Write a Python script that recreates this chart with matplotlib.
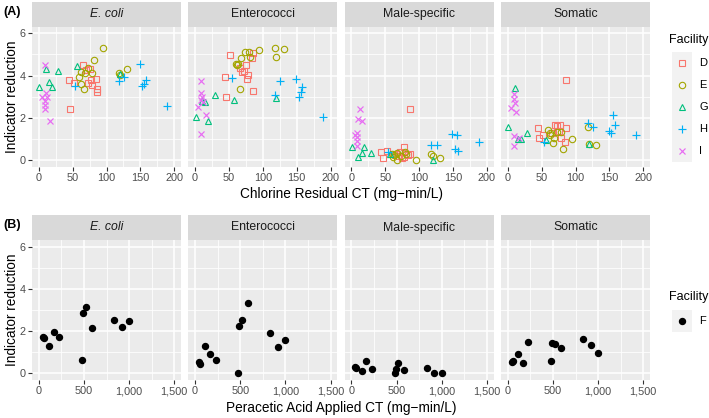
import matplotlib
matplotlib.use("Agg")
import matplotlib.pyplot as plt
from matplotlib.ticker import FuncFormatter

plt.rcParams['font.family'] = ['Liberation Sans', 'DejaVu Sans']

W, H = 709, 418

organisms = ["E. coli", "Enterococci", "Male-specific", "Somatic"]
facilities = ["D", "E", "G", "H", "I"]
fac_colors = ["#F8766D", "#A3A500", "#00BF7D", "#00B0F6", "#E76BF3"]
fac_markers = ["s", "o", "^", "+", "x"]
fac_sizes = [4.2, 4.6, 4.8, 6.0, 4.6]

# (A) chlorine residual CT per facility, and log reduction per organism
D_ct = [44, 46, 52, 66, 70, 72, 75, 77, 78, 84, 86, 86]
D_ecoli = [3.79, 2.40, 3.66, 4.49, 4.26, 3.66, 4.31, 3.79, 3.55, 3.82, 3.35, 3.24]
D_entero = [3.95, 2.99, 4.98, 4.37, 4.16, 4.23, 4.50, 3.82, 4.05, 4.82, 3.29, 5.05]
D_male = [0.40, 0.08, 0.44, 0.30, 0.20, 0.40, 0.10, 0.63, 0.16, 0.24, 2.40, 0.30]
D_somatic = [1.50, 1.06, 1.18, 1.30, 1.66, 1.60, 1.40, 1.66, 1.03, 0.87, 3.79, 1.50]

E_ct = [60, 62, 63, 67, 68, 73, 79, 81, 95, 118, 120, 131]
E_ecoli = [3.94, 3.60, 4.16, 3.38, 4.13, 4.37, 4.13, 4.76, 5.30, 4.13, 4.05, 4.32]
E_entero = [4.54, 4.50, 4.55, 3.35, 4.82, 5.13, 5.13, 4.87, 5.21, 5.29, 4.87, 5.25]
E_male = [0.30, 0.13, 0.25, 0.03, 0.35, 0.20, 0.40, 0.30, 0.03, 0.28, 0.20, 0.10]
E_somatic = [1.45, 1.18, 1.29, 0.79, 1.05, 1.34, 1.34, 0.51, 0.98, 1.58, 0.76, 0.71]

G_ct = [1, 10, 15, 19, 29, 57, 120]
G_ecoli = [3.45, 4.30, 3.70, 3.45, 4.20, 4.45, 4.10]
G_entero = [2.05, 2.81, 2.75, 1.86, 3.08, 2.84, 2.95]
G_male = [0.63, 0.13, 0.35, 0.63, 0.35, 0.30, 0.03]
G_somatic = [1.58, 3.40, 0.98, 1.00, 1.29, 0.95, 0.76]

H_ct = [54, 118, 126, 149, 153, 156, 158, 189]
H_ecoli = [3.49, 3.76, 3.94, 4.56, 3.49, 3.60, 3.81, 2.54]
H_entero = [3.87, 3.08, 3.76, 3.84, 3.00, 3.24, 3.45, 2.02]
H_male = [0.40, 0.71, 0.71, 1.26, 0.55, 1.20, 0.44, 0.84]
H_somatic = [0.87, 1.78, 1.58, 1.39, 1.29, 2.13, 1.66, 1.18]

I_ct = [5, 9, 9, 9, 9, 10, 12, 16]
I_ecoli = [3.00, 4.50, 2.80, 2.60, 2.40, 3.20, 3.00, 1.85]
I_entero = [2.53, 3.76, 3.16, 2.84, 1.23, 3.00, 2.75, 2.13]
I_male = [1.20, 1.29, 1.10, 0.66, 0.90, 1.94, 2.42, 1.86]
I_somatic = [2.45, 3.11, 2.87, 1.14, 0.66, 2.70, 2.29, 1.07]

# (B) peracetic acid applied CT, facility F
F_ct = [45, 55, 115, 165, 228, 478, 490, 520, 587, 835, 918, 1000]
F_ecoli = [1.74, 1.65, 1.30, 1.97, 1.71, 0.63, 2.84, 3.13, 2.16, 2.53, 2.21, 2.50]
F_entero = [0.55, 0.45, 1.31, 0.91, 0.63, 0.00, 2.24, 2.53, 3.32, 1.90, 1.23, 1.58]
F_male = [0.30, 0.25, 0.11, 0.58, 0.22, 0.00, 0.20, 0.50, 0.16, 0.24, 0.00, 0.00]
F_somatic = [0.55, 0.60, 0.91, 0.47, 1.47, 0.60, 1.45, 1.39, 1.22, 1.61, 1.34, 0.98]

chlorine = {
    "D": (D_ct, [D_ecoli, D_entero, D_male, D_somatic]),
    "E": (E_ct, [E_ecoli, E_entero, E_male, E_somatic]),
    "G": (G_ct, [G_ecoli, G_entero, G_male, G_somatic]),
    "H": (H_ct, [H_ecoli, H_entero, H_male, H_somatic]),
    "I": (I_ct, [I_ecoli, I_entero, I_male, I_somatic]),
}
paa = [F_ecoli, F_entero, F_male, F_somatic]

PANEL_BG = "#EBEBEB"
STRIP_BG = "#D9D9D9"
TICK_COL = "#4D4D4D"


def rect(left, top, w, h):
    return [left / W, 1 - (top + h) / H, w / W, h / H]


def style_axes(ax, xmaj, xmin, xlim, show_y, fmt=None):
    ax.set_facecolor(PANEL_BG)
    for s in ax.spines.values():
        s.set_visible(False)
    ax.set_xlim(xlim)
    ax.set_ylim(-0.3, 6.3)
    ax.set_xticks(xmaj)
    ax.set_xticks(xmin, minor=True)
    ax.set_yticks([0, 2, 4, 6])
    ax.set_yticks([1, 3, 5], minor=True)
    ax.grid(which="major", color="white", lw=1.1)
    ax.grid(which="minor", color="white", lw=0.55)
    ax.set_axisbelow(True)
    ax.tick_params(which="major", length=2.75, width=0.8, color="#333333",
                   labelsize=7.8, labelcolor=TICK_COL, pad=2)
    ax.tick_params(which="minor", length=0)
    if fmt is not None:
        ax.xaxis.set_major_formatter(fmt)
    if not show_y:
        ax.tick_params(axis="y", which="both", left=False, labelleft=False)


def strip(left, top, w, h, text):
    sax = fig.add_axes(rect(left, top, w, h))
    sax.set_facecolor(STRIP_BG)
    for s in sax.spines.values():
        s.set_visible(False)
    sax.set_xticks([])
    sax.set_yticks([])
    style = "italic" if text == "E. coli" else "normal"
    sax.text(0.5, 0.5, text, ha="center", va="center", fontsize=8.8,
             color="#1A1A1A", style=style, transform=sax.transAxes)


def draw_mark(ax, xs, ys, mk, col, ms):
    if mk in ("+", "x"):
        ax.plot(xs, ys, ls="none", marker=mk, ms=ms, mew=0.85, color=col)
    else:
        ax.plot(xs, ys, ls="none", marker=mk, ms=ms, mew=0.8,
                mfc="none", mec=col)


def legend_key(top):
    lax = fig.add_axes(rect(671.7, top, 20, 22))
    lax.set_facecolor("#F2F2F2")
    for s in lax.spines.values():
        s.set_visible(False)
    lax.set_xticks([])
    lax.set_yticks([])
    lax.set_xlim(0, 1)
    lax.set_ylim(0, 1)
    return lax


fig = plt.figure(figsize=(W / 100, H / 100), dpi=100)

lefts = [32, 188.3, 344.6, 501]
pw = 149

# panel A
for k, org in enumerate(organisms):
    strip(lefts[k], 2, pw, 24.5, org)
    ax = fig.add_axes(rect(lefts[k], 27, pw, 139.5))
    style_axes(ax, [0, 50, 100, 150, 200], [25, 75, 125, 175], (-10, 210), k == 0)
    for fac, col, mk, ms in zip(facilities, fac_colors, fac_markers, fac_sizes):
        xs, ys = chlorine[fac]
        draw_mark(ax, xs, ys[k], mk, col, ms)

# panel B
comma = FuncFormatter(lambda v, p: f"{int(v):,}")
for k, org in enumerate(organisms):
    strip(lefts[k], 215, pw, 25, org)
    ax = fig.add_axes(rect(lefts[k], 240.4, pw, 139.2))
    style_axes(ax, [0, 500, 1000, 1500], [250, 750, 1250], (-75, 1575), k == 0, comma)
    ax.plot(F_ct, paa[k], ls="none", marker="o", ms=4.3, color="black")

# titles and labels
fig.text(3 / W, 1 - 12 / H, "(A)", fontsize=9, fontweight="bold", va="center")
fig.text(3 / W, 1 - 225 / H, "(B)", fontsize=9, fontweight="bold", va="center")
fig.text(12 / W, 1 - 97 / H, "Indicator reduction", rotation=90, fontsize=9.8,
         ha="center", va="center")
fig.text(12 / W, 1 - 310 / H, "Indicator reduction", rotation=90, fontsize=9.8,
         ha="center", va="center")
fig.text(341 / W, 1 - 194 / H, "Chlorine Residual CT (mg\u2212min/L)", fontsize=9.8,
         ha="center", va="center")
fig.text(341 / W, 1 - 408 / H, "Peracetic Acid Applied CT (mg\u2212min/L)", fontsize=9.8,
         ha="center", va="center")

# legend A
fig.text(669 / W, 1 - 40 / H, "Facility", fontsize=9, va="center")
for i, (fac, col, mk, ms) in enumerate(zip(facilities, fac_colors, fac_markers, fac_sizes)):
    top = 51.7 + 22 * i
    lax = legend_key(top)
    draw_mark(lax, [0.5], [0.5], mk, col, ms)
    fig.text(699 / W, 1 - (top + 11) / H, fac, fontsize=8, va="center")

# legend B
fig.text(669 / W, 1 - 297 / H, "Facility", fontsize=9, va="center")
lax = legend_key(309.5)
lax.plot([0.5], [0.5], marker="o", ms=4.3, color="black")
fig.text(699 / W, 1 - 320.5 / H, "F", fontsize=8, va="center")

fig.savefig("out.png", dpi=100)
